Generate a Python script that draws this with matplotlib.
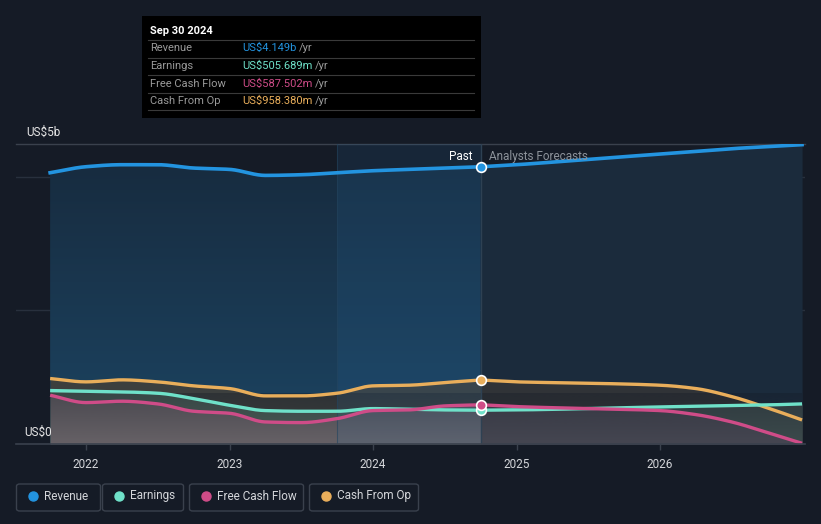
import numpy as np
import matplotlib
matplotlib.use("Agg")
import matplotlib.pyplot as plt
from matplotlib.patches import FancyBboxPatch, Rectangle, Polygon
from matplotlib.colors import LinearSegmentedColormap

# ---------------- data (US$ billions) ----------------
past_t = [2021.75, 2022.0, 2022.25, 2022.5, 2022.75, 2023.0, 2023.25, 2023.5,
          2023.75, 2024.0, 2024.25, 2024.5, 2024.75]
rev_past = [4.06, 4.15, 4.18, 4.18, 4.13, 4.11, 4.02, 4.03, 4.06, 4.09, 4.11, 4.13, 4.149]
earn_past = [0.80, 0.79, 0.78, 0.76, 0.68, 0.58, 0.50, 0.49, 0.49, 0.53, 0.52, 0.51, 0.506]
fcf_past = [0.73, 0.62, 0.64, 0.60, 0.49, 0.46, 0.33, 0.32, 0.38, 0.50, 0.51, 0.57, 0.5875]
cfo_past = [0.98, 0.93, 0.96, 0.93, 0.87, 0.83, 0.72, 0.72, 0.76, 0.87, 0.88, 0.92, 0.958]

fc_t = [2024.75, 2025.0, 2025.5, 2026.0, 2026.25, 2026.5, 2026.75, 2026.99]
rev_fc = [4.149, 4.18, 4.26, 4.34, 4.38, 4.42, 4.45, 4.48]
earn_fc = [0.506, 0.51, 0.53, 0.555, 0.565, 0.575, 0.585, 0.60]
fcf_fc = [0.5875, 0.56, 0.53, 0.50, 0.44, 0.33, 0.17, 0.01]
cfo_fc = [0.958, 0.93, 0.91, 0.88, 0.83, 0.71, 0.54, 0.36]

year_ticks = [2022, 2023, 2024, 2025, 2026]
tooltip_date = "Sep 30 2024"
tooltip_rows = [("Revenue", "US$4.149b"), ("Earnings", "US$505.689m"),
                ("Free Cash Flow", "US$587.502m"), ("Cash From Op", "US$958.380m")]
series_names = ["Revenue", "Earnings", "Free Cash Flow", "Cash From Op"]

# ---------------- style ----------------
BG = "#151b26"
C_REV = "#2394e0"
C_EARN = "#6fe1c9"
C_FCF = "#cf4c88"
C_CFO = "#e9ae5b"
colors = [C_REV, C_EARN, C_FCF, C_CFO]
plt.rcParams['font.family'] = ['Roboto', 'DejaVu Sans']


def pchip(x, y, n=40):
    x = np.asarray(x, float); y = np.asarray(y, float)
    h = np.diff(x); d = np.diff(y) / h
    m = np.zeros_like(y)
    for k in range(1, len(x) - 1):
        if d[k - 1] * d[k] <= 0:
            m[k] = 0
        else:
            w1 = 2 * h[k] + h[k - 1]; w2 = h[k] + 2 * h[k - 1]
            m[k] = (w1 + w2) / (w1 / d[k - 1] + w2 / d[k])
    m[0] = d[0]; m[-1] = d[-1]
    xs, ys = [], []
    for k in range(len(x) - 1):
        t = np.linspace(0, 1, n, endpoint=(k == len(x) - 2))
        h00 = 2*t**3 - 3*t**2 + 1; h10 = t**3 - 2*t**2 + t
        h01 = -2*t**3 + 3*t**2; h11 = t**3 - t**2
        xs.append(x[k] + t*h[k])
        ys.append(h00*y[k] + h10*h[k]*m[k] + h01*y[k+1] + h11*h[k]*m[k+1])
    return np.concatenate(xs), np.concatenate(ys)


W, H = 821, 524
fig = plt.figure(figsize=(W/100, H/100), dpi=100, facecolor=BG)
ax_l, ax_r, ax_t, ax_b = 16, 805, 144, 444
ax = fig.add_axes([ax_l/W, 1 - ax_b/H, (ax_r-ax_l)/W, (ax_b-ax_t)/H])
ax.set_facecolor(BG)
x0 = 2022 - (86 - ax_l) / 143.5
x1 = 2022 + (ax_r - 86) / 143.5
ax.set_xlim(x0, x1)
ax.set_ylim(0, 4.49)
for s in ax.spines.values():
    s.set_visible(False)

# gridlines
for gv in [2.0, 4.0]:
    ax.axhline(gv, color="#28303d", lw=1, zorder=1)
ax.axhline(4.49, color="#3a414d", lw=1, zorder=1, clip_on=False)
ax.axhline(0, color="#3a414d", lw=1.2, zorder=6, clip_on=False)

# revenue curve
rx_p, ry_p = pchip(past_t, rev_past)
rx_f, ry_f = pchip(fc_t, rev_fc)

# past fill under revenue (gradient)
poly_p = Polygon(np.column_stack([np.r_[rx_p, rx_p[-1], rx_p[0]], np.r_[ry_p, 0, 0]]),
                 closed=True, facecolor="none", edgecolor="none", transform=ax.transData)
ax.add_patch(poly_p)
grad = np.linspace(0, 1, 256).reshape(-1, 1)
cm_p = LinearSegmentedColormap.from_list("p", ["#1c4462", "#172a3d"])
im = ax.imshow(grad, cmap=cm_p, aspect="auto", extent=[past_t[0], past_t[-1], 4.5, 0],
               origin="upper", zorder=2)
im.set_clip_path(poly_p)

# forecast fill under revenue
ax.fill_between(rx_f, 0, ry_f, color="#1b2b3c", zorder=2, lw=0)

# lower series fills (opaque tones as seen in the chart)
fills = [(cfo_past, cfo_fc, "#3c3f3e", "#303337"),
         (earn_past, earn_fc, "#4b5d57", "#3c4a4c"),
         (fcf_past, fcf_fc, "#666166", "#454651")]
for pv, fv, cp, cf in fills:
    xp, yp = pchip(past_t, pv)
    xf, yf = pchip(fc_t, fv)
    ax.fill_between(xp, 0, yp, color=cp, lw=0, zorder=3)
    ax.fill_between(xf, 0, yf, color=cf, lw=0, zorder=3)

# darkening gradient toward the baseline
shade = np.zeros((256, 1, 4))
shade[..., 0:3] = np.array([0x15, 0x1b, 0x26]) / 255
shade[:, 0, 3] = np.linspace(0.0, 0.35, 256)
ax.imshow(shade, aspect="auto", extent=[past_t[0], fc_t[-1], 0.75, 0], origin="upper",
          zorder=3.2)
ax.set_xlim(x0, x1); ax.set_ylim(0, 4.49)

# highlight last-year band
ax.axvspan(2023.75, 2024.75, color="#2a6fa8", alpha=0.14, zorder=3.5, lw=0)
ax.axvline(2023.75, color="#24435c", lw=0.8, alpha=0.6, zorder=3.6)

for pv, fv, c in [(cfo_past, cfo_fc, C_CFO), (earn_past, earn_fc, C_EARN), (fcf_past, fcf_fc, C_FCF)]:
    xp, yp = pchip(past_t, pv)
    xf, yf = pchip(fc_t, fv)
    ax.plot(np.r_[xp, xf], np.r_[yp, yf], color=c, lw=2.4, zorder=5, solid_capstyle="butt")

ax.plot(np.r_[rx_p, rx_f], np.r_[ry_p, ry_f], color=C_REV, lw=2.6, zorder=5)

# vertical marker line
ax.axvline(2024.75, color="#2e4153", lw=1, zorder=4)

# markers at Sep 30 2024
for vals, c in [(rev_past, C_REV), (cfo_past, C_CFO), (earn_past, C_EARN), (fcf_past, C_FCF)]:
    ax.plot([past_t[-1]], [vals[-1]], "o", ms=7, mfc=c, mec="white", mew=1.2, zorder=7)

# Past / forecast labels
ax.text(2024.75 - 0.06, 4.31, "Past", color="white", fontsize=8.5, ha="right", va="center", zorder=8)
ax.text(2024.75 + 0.06, 4.31, "Analysts Forecasts", color="#8c929a", fontsize=8.5,
        ha="left", va="center", zorder=8)

# x ticks
ax.set_xticks(year_ticks)
ax.set_xticklabels([str(y) for y in year_ticks])
ax.tick_params(axis="x", colors="#3a414d", length=4, width=1, pad=6, labelcolor="#d4d6da",
               labelsize=8.5)
ax.set_yticks([])

# y labels
fig.text(26/W, 1 - 132/H, "US$5b", color="#e6e6e6", fontsize=8.5, ha="left", va="center")
fig.text(24/W, 1 - 432/H, "US$0", color="#e6e6e6", fontsize=8.5, ha="left", va="center", zorder=10)

# tooltip
tt = Rectangle((142/W, 1 - 118/H), (481-142)/W, (118-16)/H, transform=fig.transFigure,
               facecolor="black", edgecolor="none", zorder=20)
fig.patches.append(tt)
fig.text(150/W, 1 - 31/H, tooltip_date, color="white", fontsize=8, fontweight="bold",
         ha="left", va="center", zorder=21)
row_y = [48, 66, 84, 101]
sep_y = [40, 58, 75, 93, 110]
for sy in sep_y:
    fig.add_artist(plt.Line2D([148/W, 474/W], [1 - sy/H, 1 - sy/H], color="#3a3a3a", lw=0.8,
                              transform=fig.transFigure, zorder=21))
for (lab, val), ry, c in zip(tooltip_rows, row_y, colors):
    fig.text(150/W, 1 - ry/H, lab, color="#9a9a9a", fontsize=8, ha="left", va="center", zorder=21)
    t = fig.text(242/W, 1 - ry/H, val, color=c, fontsize=8, ha="left", va="center", zorder=21)
    fig.canvas.draw()
    bb = t.get_window_extent()
    fig.text(bb.x1/W + 3/W, 1 - ry/H, "/yr", color="#9a9a9a", fontsize=8, ha="left",
             va="center", zorder=21)

# legend
leg_boxes = [(16, 101), (102, 184), (189, 304), (309, 419)]
for (lx0, lx1), name, c in zip(leg_boxes, series_names, colors):
    box = FancyBboxPatch(((lx0+0.5)/W, 1 - 511/H), (lx1-lx0-1)/W, 27/H,
                         boxstyle="round,pad=0,rounding_size=0.004", transform=fig.transFigure,
                         facecolor="none", edgecolor="#3a414d", lw=1)
    fig.patches.append(box)
    fig.add_artist(plt.Line2D([(lx0+17)/W], [1 - 496/H], marker="o", ms=6.5, color=c,
                              transform=fig.transFigure))
    fig.text((lx0+28)/W, 1 - 496/H, name, color="#d4d6da", fontsize=8.5, ha="left", va="center")

fig.savefig("out.png", dpi=100, facecolor=BG)
